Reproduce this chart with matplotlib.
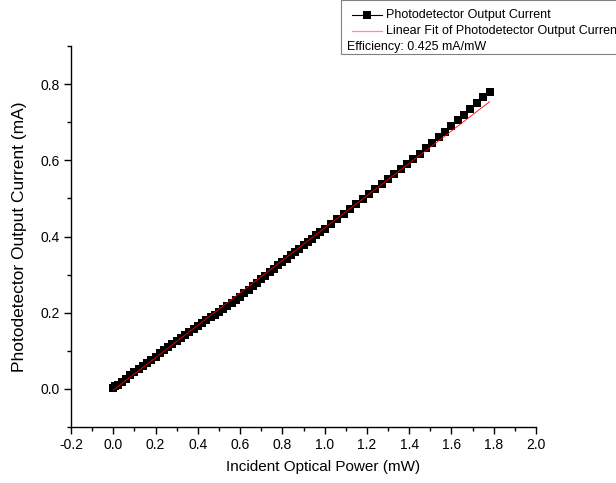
import numpy as np
import matplotlib
matplotlib.use("Agg")
import matplotlib.pyplot as plt
from matplotlib.lines import Line2D
from matplotlib.patches import Rectangle

plt.rcParams['font.family'] = ['Liberation Sans', 'DejaVu Sans']

# measured photodetector current vs incident power
power_mw = [0.00, 0.01, 0.02, 0.04, 0.06, 0.08, 0.10, 0.12, 0.14, 0.16,
            0.18, 0.20, 0.22, 0.24, 0.26, 0.28, 0.30, 0.32, 0.34, 0.36,
            0.38, 0.40, 0.42, 0.44, 0.46, 0.48, 0.50, 0.52, 0.54, 0.56,
            0.58, 0.60, 0.62, 0.64, 0.66, 0.68, 0.70, 0.72, 0.74, 0.76,
            0.78, 0.80, 0.82, 0.84, 0.86, 0.88, 0.90, 0.92, 0.94, 0.96,
            0.98, 1.00, 1.03, 1.06, 1.09, 1.12, 1.15, 1.18, 1.21, 1.24,
            1.27, 1.30, 1.33, 1.36, 1.39, 1.42, 1.45, 1.48, 1.51, 1.54,
            1.57, 1.60, 1.63, 1.66, 1.69, 1.72, 1.75, 1.78]
current_ma = [0.003, 0.007, 0.011, 0.019, 0.027, 0.036, 0.044, 0.052, 0.061, 0.069,
              0.077, 0.085, 0.094, 0.102, 0.110, 0.118, 0.126, 0.134, 0.141, 0.149,
              0.157, 0.165, 0.173, 0.180, 0.188, 0.195, 0.203, 0.210, 0.218, 0.225,
              0.233, 0.242, 0.251, 0.260, 0.269, 0.279, 0.288, 0.297, 0.306, 0.315,
              0.324, 0.333, 0.342, 0.351, 0.359, 0.368, 0.377, 0.385, 0.394, 0.403,
              0.411, 0.420, 0.433, 0.446, 0.459, 0.472, 0.485, 0.498, 0.511, 0.524,
              0.537, 0.550, 0.563, 0.577, 0.590, 0.604, 0.617, 0.631, 0.645, 0.660,
              0.675, 0.690, 0.705, 0.720, 0.735, 0.750, 0.765, 0.780]

# linear fit parameters
fit_slope = 0.425
fit_intercept = -0.003

x_ticks = [-0.2, 0.0, 0.2, 0.4, 0.6, 0.8, 1.0, 1.2, 1.4, 1.6, 1.8, 2.0]
y_ticks = [0.0, 0.2, 0.4, 0.6, 0.8]

fig = plt.figure(figsize=(6.16, 4.83), dpi=100)
ax = fig.add_axes([71/616, 1 - 427/483, (536 - 71)/616, (427 - 46)/483])

x = np.array(power_mw)
y = np.array(current_ma)
ax.plot(x, y, color='black', lw=1, marker='s', markersize=6.3,
        markeredgewidth=0)
xf = np.array([x.min(), x.max()])
ax.plot(xf, fit_slope*xf + fit_intercept, color='red', lw=0.6)

ax.set_xlim(-0.2, 2.0)
ax.set_ylim(-0.1, 0.9)
ax.set_xticks(x_ticks)
ax.set_xticklabels(['%.1f' % v for v in x_ticks])
ax.set_yticks(y_ticks)
ax.set_yticklabels(['%.1f' % v for v in y_ticks])
ax.set_xticks(np.arange(-0.1, 2.0, 0.2), minor=True)
ax.set_yticks(np.arange(-0.1, 0.95, 0.2), minor=True)
ax.tick_params(which='major', direction='out', length=5, width=1, labelsize=10, pad=3)
ax.tick_params(which='minor', direction='out', length=3, width=1)
for s in ['top', 'right']:
    ax.spines[s].set_visible(False)
for s in ['left', 'bottom']:
    ax.spines[s].set_linewidth(1)

ax.set_xlabel('Incident Optical Power (mW)', fontsize=11)
ax.set_ylabel('Photodetector Output Current (mA)', fontsize=12.5)
ax.xaxis.set_label_coords((323 - 71)/(536 - 71), -(467 - 427)/(427 - 46))
ax.yaxis.set_label_coords(-(71 - 20)/(536 - 71), 0.5)
ax.xaxis.label.set_va('center')
ax.yaxis.label.set_va('center')

# legend box drawn by hand (it runs off the right edge, as in the original)
W, H = 616, 483
fig.add_artist(Rectangle((341/W, 1 - 54/H), 300/W, 54/H, transform=fig.transFigure,
                         facecolor='white', edgecolor='#808080', lw=0.8, clip_on=False))
fig.add_artist(Line2D([352/W, 382/W], [1 - 15/H, 1 - 15/H], transform=fig.transFigure,
                      color='black', lw=0.8))
fig.add_artist(Line2D([367/W], [1 - 15/H], transform=fig.transFigure, color='black',
                      marker='s', markersize=5.5, markeredgewidth=0))
fig.add_artist(Line2D([352/W, 382/W], [1 - 31/H, 1 - 31/H], transform=fig.transFigure,
                      color='#ff9090', lw=0.9))
fig.text(386/W, 1 - 15/H, 'Photodetector Output Current', fontsize=9, va='center')
fig.text(386/W, 1 - 31/H, 'Linear Fit of Photodetector Output Current', fontsize=9, va='center')
fig.text(347/W, 1 - 47/H, 'Efficiency: 0.425 mA/mW', fontsize=9, va='center')

fig.savefig('out.png', dpi=100)
